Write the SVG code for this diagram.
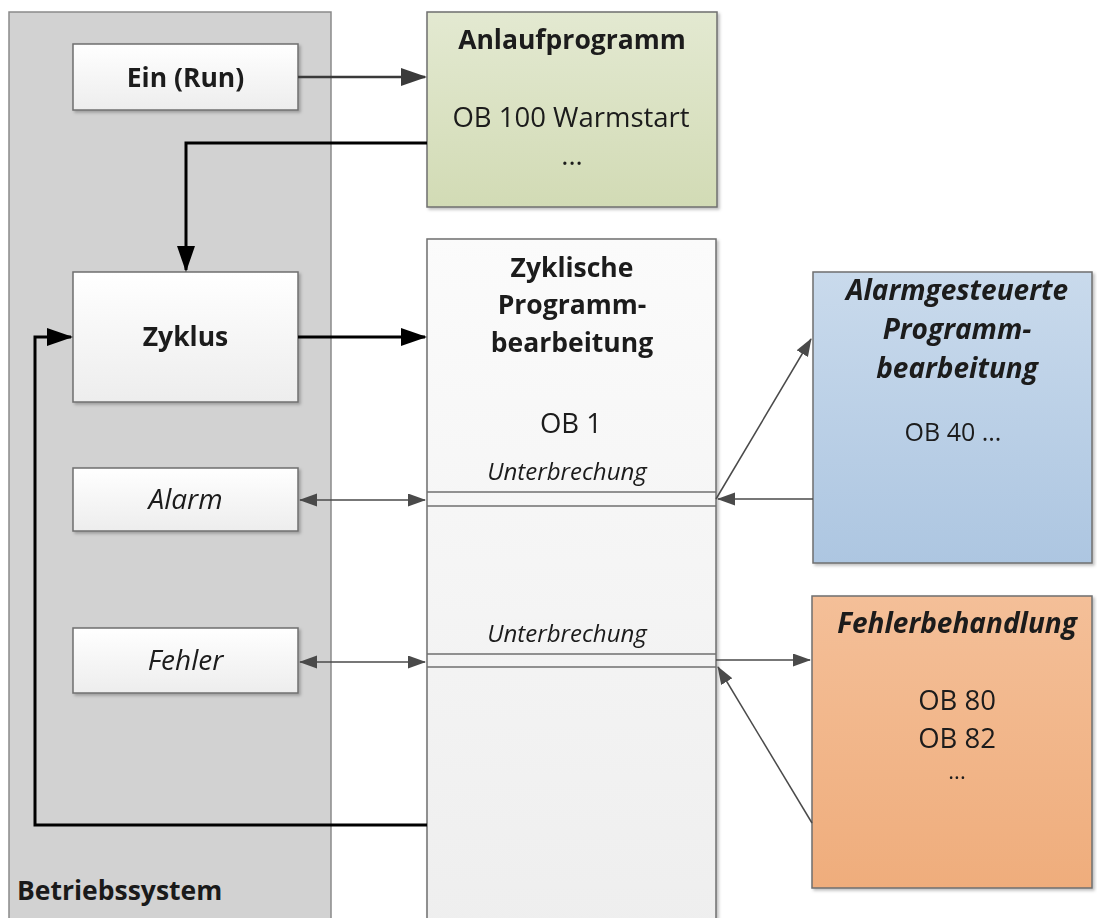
<svg xmlns="http://www.w3.org/2000/svg" width="1097" height="918" viewBox="0 0 1097 918">
  <style>
    text { font-family: "Open Sans", "Liberation Sans", sans-serif; fill: #1a1a1a; text-anchor: middle; }
    .b { font-weight: bold; font-size: 26.5px; }
    .r { font-size: 27.5px; }
    .bi { font-weight: bold; font-style: italic; font-size: 28px; }
    .i { font-style: italic; font-size: 28px; }
    .si { font-style: italic; font-size: 24px; }
    .box { stroke: #6f6f6f; stroke-width: 1.5; }
    .thick { fill: none; stroke: #000; stroke-width: 3; }
    .dark { fill: none; stroke: #3a3a3a; stroke-width: 2.5; }
    .thin { fill: none; stroke: #4a4a4a; stroke-width: 1.5; }
    .band { stroke: #6f6f6f; stroke-width: 1.5; }
  </style>
  <defs>
    <linearGradient id="gWhite" x1="0" y1="0" x2="0" y2="1">
      <stop offset="0" stop-color="#ffffff"/>
      <stop offset="1" stop-color="#ededed"/>
    </linearGradient>
    <linearGradient id="gCycle" x1="0" y1="0" x2="0" y2="1">
      <stop offset="0" stop-color="#fbfbfb"/>
      <stop offset="1" stop-color="#eeeeee"/>
    </linearGradient>
    <linearGradient id="gGreen" x1="0" y1="0" x2="0" y2="1">
      <stop offset="0" stop-color="#e3e9d1"/>
      <stop offset="1" stop-color="#d2dbb5"/>
    </linearGradient>
    <linearGradient id="gBlue" x1="0" y1="0" x2="0" y2="1">
      <stop offset="0" stop-color="#c9daec"/>
      <stop offset="1" stop-color="#adc6e1"/>
    </linearGradient>
    <linearGradient id="gOrange" x1="0" y1="0" x2="0" y2="1">
      <stop offset="0" stop-color="#f4bf98"/>
      <stop offset="1" stop-color="#efad7c"/>
    </linearGradient>
    <filter id="shadow" x="-5%" y="-5%" width="115%" height="115%">
      <feDropShadow dx="2" dy="2" stdDeviation="1.5" flood-color="#000" flood-opacity="0.25"/>
    </filter>
    <marker id="aThick" markerUnits="userSpaceOnUse" markerWidth="28" markerHeight="18" refX="24" refY="9" orient="auto">
      <path d="M0,0 L26,9 L0,18 z" fill="#000"/>
    </marker>
    <marker id="aDark" markerUnits="userSpaceOnUse" markerWidth="28" markerHeight="18" refX="24" refY="9" orient="auto">
      <path d="M0,0 L26,9 L0,18 z" fill="#3a3a3a"/>
    </marker>
    <marker id="aThin" markerUnits="userSpaceOnUse" markerWidth="20" markerHeight="14" refX="17" refY="6.5" orient="auto-start-reverse">
      <path d="M0,0 L18,6.5 L0,13 z" fill="#4a4a4a"/>
    </marker>
  </defs>

  <!-- operating system panel -->
  <g id="betriebssystem">
    <rect x="9" y="12" width="322" height="920" fill="#d2d2d2" stroke="#8a8a8a" stroke-width="1.5"/>
    <text x="17" y="900" class="b" style="text-anchor:start">Betriebssystem</text>
  </g>

  <g id="ein-run" filter="url(#shadow)">
    <rect x="73" y="44" width="225" height="66" class="box" fill="url(#gWhite)"/>
    <text x="185.5" y="87" class="b">Ein (Run)</text>
  </g>

  <g id="zyklus" filter="url(#shadow)">
    <rect x="73" y="272" width="225" height="130" class="box" fill="url(#gWhite)"/>
    <text x="185.5" y="346" class="b">Zyklus</text>
  </g>

  <g id="alarm" filter="url(#shadow)">
    <rect x="73" y="468" width="225" height="63" class="box" fill="url(#gWhite)"/>
    <text x="185.5" y="509" class="i">Alarm</text>
  </g>

  <g id="fehler" filter="url(#shadow)">
    <rect x="73" y="628" width="225" height="65" class="box" fill="url(#gWhite)"/>
    <text x="185.5" y="670" class="i">Fehler</text>
  </g>

  <g id="anlaufprogramm" filter="url(#shadow)">
    <rect x="427" y="12" width="290" height="195" class="box" fill="url(#gGreen)"/>
    <text x="572" y="49" class="b">Anlaufprogramm</text>
    <text x="571" y="127" class="r">OB 100 Warmstart</text>
    <text x="572" y="165" class="r">...</text>
  </g>

  <g id="zyklische-programmbearbeitung" filter="url(#shadow)">
    <rect x="427" y="239" width="289" height="700" class="box" fill="url(#gCycle)"/>
    <text x="572" y="277" class="b">Zyklische</text>
    <text x="572" y="314" class="b">Programm-</text>
    <text x="572" y="352" class="b">bearbeitung</text>
    <text x="571" y="433" class="r">OB 1</text>
    <text x="567" y="480" class="si">Unterbrechung</text>
    <line x1="427" y1="492" x2="716" y2="492" class="band"/>
    <line x1="427" y1="506" x2="716" y2="506" class="band"/>
    <text x="567" y="642" class="si">Unterbrechung</text>
    <line x1="427" y1="654" x2="716" y2="654" class="band"/>
    <line x1="427" y1="667" x2="716" y2="667" class="band"/>
  </g>

  <g id="alarmgesteuerte-programmbearbeitung" filter="url(#shadow)">
    <rect x="813" y="272" width="279" height="291" class="box" fill="url(#gBlue)"/>
    <text x="957" y="300" class="bi">Alarmgesteuerte</text>
    <text x="957" y="339" class="bi">Programm-</text>
    <text x="957" y="378" class="bi">bearbeitung</text>
    <text x="953" y="441" class="r" style="font-size:25px">OB 40 ...</text>
  </g>

  <g id="fehlerbehandlung" filter="url(#shadow)">
    <rect x="812" y="596" width="280" height="292" class="box" fill="url(#gOrange)"/>
    <text x="957" y="633" class="bi">Fehlerbehandlung</text>
    <text x="957" y="710" class="r">OB 80</text>
    <text x="957" y="748" class="r">OB 82</text>
    <text x="957" y="779" class="r" style="font-size:22px">...</text>
  </g>

  <!-- connectors -->
  <g id="connectors">
    <line x1="298" y1="77" x2="425" y2="77" class="dark" marker-end="url(#aDark)"/>
    <polyline points="427,143 186,143 186,270" class="thick" marker-end="url(#aThick)"/>
    <line x1="298" y1="337" x2="425" y2="337" class="thick" marker-end="url(#aThick)"/>
    <polyline points="427,825 35,825 35,337 71,337" class="thick" marker-end="url(#aThick)"/>

    <line x1="300" y1="500" x2="425" y2="500" class="thin" marker-start="url(#aThin)" marker-end="url(#aThin)"/>
    <line x1="300" y1="662" x2="425" y2="662" class="thin" marker-start="url(#aThin)" marker-end="url(#aThin)"/>

    <line x1="813" y1="499" x2="718" y2="499" class="thin" marker-end="url(#aThin)"/>
    <line x1="716" y1="499" x2="811" y2="339" class="thin" marker-end="url(#aThin)"/>

    <line x1="716" y1="660" x2="810" y2="660" class="thin" marker-end="url(#aThin)"/>
    <line x1="812" y1="823" x2="718" y2="667" class="thin" marker-end="url(#aThin)"/>
  </g>
</svg>
